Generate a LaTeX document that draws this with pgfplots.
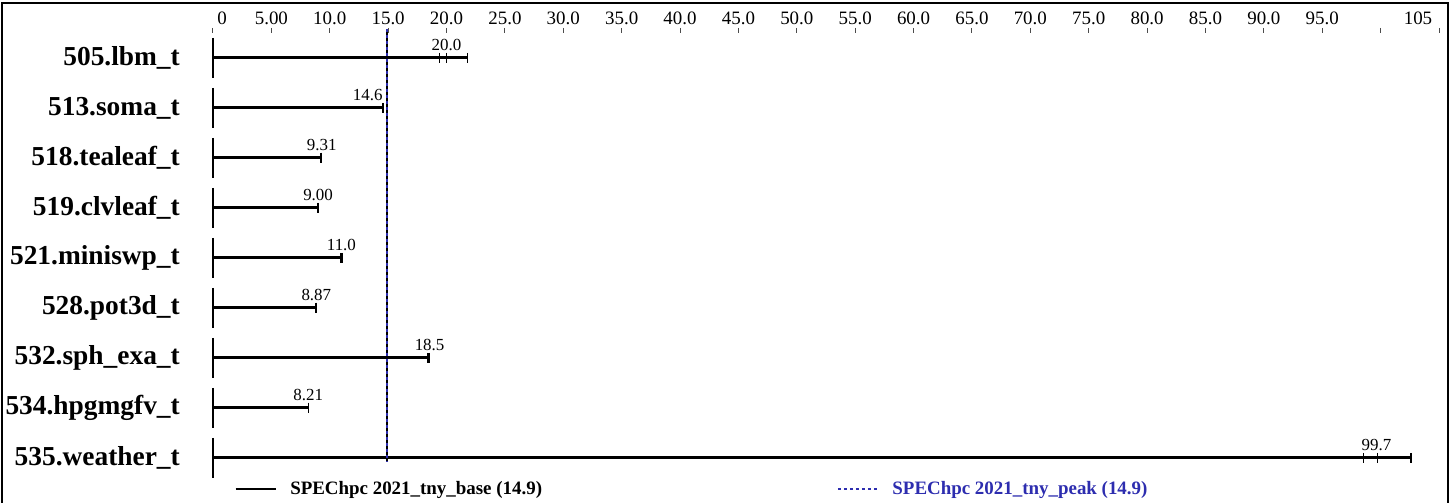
\documentclass[border=0pt]{standalone}
\usepackage{fontspec}
\setmainfont{Liberation Serif}
\usepackage{pgfplots}
\usepackage{pgfplotstable}
\pgfplotsset{compat=1.18}
\definecolor{specblue}{RGB}{45,45,175}

% row: 0 = top benchmark; min/med/max of the runs; lx = label position
\pgfplotstableread{
row min med max lx lab
0 19.4 20.0 21.8 20.0 20.0
-1 14.5 14.6 14.6 13.25 14.6
-2 9.25 9.31 9.31 9.31 9.31
-3 8.95 9.00 9.00 9.00 9.00
-4 10.9 11.0 11.1 11.0 11.0
-5 8.82 8.87 8.87 8.85 8.87
-6 18.4 18.5 18.5 18.55 18.5
-7 8.15 8.21 8.21 8.15 8.21
-8 98.5 99.7 102.6 99.65 99.7
}\runs

\begin{document}
\begin{tikzpicture}
\begin{axis}[
    name=ax,
    scale only axis,
    width=1226bp, height=450bp,
    xmin=0, xmax=105,
    ymin=-8.5, ymax=0.5,
    clip=false,
    axis line style={draw=none},
    xtick pos=right, xticklabel pos=right,
    tick align=outside,
    major tick length=5bp,
    xtick style={gray!60!black, line width=1bp},
    ytick style={draw=none},
    xtick={0,5,...,105},
    xticklabels={\hspace{18bp}0,5.00,10.0,15.0,20.0,25.0,30.0,35.0,40.0,45.0,50.0,55.0,60.0,65.0,70.0,75.0,80.0,85.0,90.0,95.0,,105\kern42bp},
    xticklabel style={font=\fontsize{19}{20}\selectfont, inner sep=0bp, yshift=3bp},
    ytick={-8,-7,...,0},
    yticklabels={535.weather\_t,534.hpgmgfv\_t,532.sph\_exa\_t,528.pot3d\_t,521.miniswp\_t,519.clvleaf\_t,518.tealeaf\_t,513.soma\_t,505.lbm\_t},
    yticklabel style={font=\bfseries\fontsize{27.5}{30}\selectfont, anchor=east, inner sep=0bp, xshift=-28bp},
    /pgf/number format/assume math mode=true,
    legend columns=2,
    legend cell align=left,
    legend style={at={(axis description cs:0.018,-0.0133)}, anchor=west,
        draw=none, fill=none, inner sep=0pt, outer sep=0pt,
        font=\bfseries\fontsize{19}{20}\selectfont,
        /tikz/every odd column/.append style={column sep=12bp}},
    legend image code/.code={\draw[#1] (0bp,0bp) -- (40bp,0bp);},
]
% bars up to the largest run
\addplot[xcomb, black, line width=3bp, forget plot] table[x=max, y=row]{\runs};
% base line of each row
\addplot[only marks, mark=|, mark size=20bp, mark options={line width=2.5bp, black}, forget plot] table[x expr=0, y=row]{\runs};
% run ticks
\addplot[only marks, mark=|, mark size=5bp, mark options={line width=1.2bp, black}, forget plot] table[x=min, y=row]{\runs};
\addplot[only marks, mark=|, mark size=5bp, mark options={line width=1.2bp, black}, forget plot] table[x=med, y=row]{\runs};
\addplot[only marks, mark=|, mark size=5bp, mark options={line width=1.2bp, black}, forget plot] table[x=max, y=row]{\runs};
% value labels
\addplot[draw=none, mark=none, forget plot, nodes near coords, point meta=explicit symbolic,
    nodes near coords style={font=\fontsize{17}{18}\selectfont, anchor=base, inner sep=0bp, yshift=7bp}]
    table[x=lx, y=row, meta=lab]{\runs};
% overall results
\addplot[black, line width=1.2bp] coordinates {(14.9,0.58) (14.9,-8.08)};
\addlegendentry{\makebox[545bp][l]{SPEChpc 2021\_tny\_base (14.9)}}
\addplot[specblue, line width=1.2bp, dash pattern=on 3bp off 3bp] coordinates {(14.9,0.58) (14.9,-8.08)};
\addlegendentry{\textcolor{specblue}{SPEChpc 2021\_tny\_peak (14.9)}}
\end{axis}
\draw[line width=2bp] ([xshift=-211bp,yshift=-20bp]ax.south west) -- ([xshift=-211bp,yshift=30bp]ax.north west)
    -- ([xshift=9bp,yshift=30bp]ax.north east) -- ([xshift=9bp,yshift=-20bp]ax.south east);
\pgfresetboundingbox
\path[use as bounding box] ([xshift=-213bp,yshift=-20bp]ax.south west) rectangle ([xshift=16bp,yshift=33bp]ax.north east);
\end{tikzpicture}
\end{document}
